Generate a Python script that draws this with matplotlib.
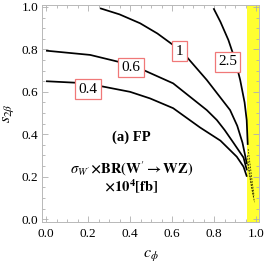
import matplotlib
matplotlib.use("Agg")
import matplotlib.pyplot as plt
from matplotlib.ticker import MultipleLocator

plt.rcParams['mathtext.fontset'] = 'stix'
plt.rcParams['font.family'] = ['Liberation Serif', 'DejaVu Serif']

# contour levels (sigma x BR x 10^4 [fb])
levels = ["0.4", "0.6", "1", "2.5"]
c_04 = [0.0, 0.14, 0.26, 0.40, 0.495, 0.605, 0.733, 0.83, 0.908, 0.94, 0.956]
s_04 = [0.65, 0.643, 0.627, 0.60, 0.569, 0.523, 0.432, 0.37, 0.294, 0.247, 0.20]
c_06 = [0.0, 0.21, 0.343, 0.463, 0.605, 0.765, 0.813, 0.85, 0.892, 0.94, 0.956]
s_06 = [0.794, 0.774, 0.742, 0.703, 0.64, 0.514, 0.467, 0.42, 0.36, 0.29, 0.23]
c_1 = [0.257, 0.35, 0.448, 0.53, 0.606, 0.665, 0.765, 0.876, 0.91, 0.935, 0.956]
s_1 = [0.994, 0.965, 0.923, 0.875, 0.82, 0.77, 0.656, 0.514, 0.44, 0.36, 0.26]
c_25 = [0.797, 0.83, 0.868, 0.90, 0.924, 0.945, 0.955, 0.96]
s_25 = [0.994, 0.93, 0.844, 0.75, 0.656, 0.55, 0.467, 0.35]
curves_c = [c_04, c_06, c_1, c_25]
curves_s = [s_04, s_06, s_1, s_25]

# label positions (c, s)
label_c = [0.20, 0.404, 0.636, 0.864]
label_s = [0.613, 0.715, 0.792, 0.742]

# dashed contour pieces inside the excluded band
band_c = [[0.958, 0.966, 0.975, 0.985, 0.992], [0.960, 0.968, 0.978, 0.988], [0.962, 0.972, 0.982, 0.99]]
band_s = [[0.30, 0.24, 0.18, 0.12, 0.08], [0.26, 0.21, 0.15, 0.10], [0.33, 0.25, 0.17, 0.11]]

# excluded band in c_phi
band_lo, band_hi = 0.958, 1.02

fig = plt.figure(figsize=(2.66, 2.66), dpi=100)
ax = fig.add_axes([0.158, 0.165, 0.816, 0.816])
ax.set_xlim(-0.019, 1.014)
ax.set_ylim(-0.014, 1.009)

ax.axvspan(band_lo, band_hi, color='#ffff30', zorder=1, lw=0)

for cc, ss in zip(curves_c, curves_s):
    ax.plot(cc, ss, color='black', lw=1.25, zorder=2, solid_capstyle='butt')
for cc, ss in zip(band_c, band_s):
    ax.plot(cc, ss, color='#333300', lw=0.6, ls=(0, (2, 1.5)), zorder=2)

for lab, x, y in zip(levels, label_c, label_s):
    ax.text(x, y, lab, ha='center', va='center', fontsize=11, zorder=4,
            bbox=dict(boxstyle='square,pad=0.22', fc='white', ec='#f07878', lw=0.9))

ax.text(0.405, 0.385, '(a) FP', ha='center', va='center', fontsize=10.5, fontweight='bold', zorder=4)
ax.text(0.405, 0.24, r'$\sigma_{W^{\prime}}\mathbf{\times BR(}\mathbf{W}^{\prime}\mathbf{\rightarrow WZ)}$',
        ha='center', va='center', fontsize=10.5, zorder=4)
ax.text(0.405, 0.15, r'$\mathbf{\times 10^{4}[fb]}$', ha='center', va='center', fontsize=10.5, zorder=4)

ax.xaxis.set_minor_locator(MultipleLocator(0.05))
ax.yaxis.set_minor_locator(MultipleLocator(0.05))
ax.set_xticks([0, 0.2, 0.4, 0.6, 0.8, 1.0])
ax.set_xticklabels(['0.0', '0.2', '0.4', '0.6', '0.8', '1.0'])
ax.set_yticks([0, 0.2, 0.4, 0.6, 0.8, 1.0])
ax.set_yticklabels(['0.0', '0.2', '0.4', '0.6', '0.8', '1.0'])
ax.tick_params(which='both', direction='in', top=True, right=True, color='#b0b0b0', width=0.6, labelsize=9.5)
ax.tick_params(which='major', length=4)
ax.tick_params(which='minor', length=2.2)
ax.tick_params(axis='x', pad=4)
ax.tick_params(axis='y', pad=2.5)
for sp in ax.spines.values():
    sp.set_color('#b8b8b8')
    sp.set_linewidth(0.7)

ax.set_xlabel(r'$c_{\phi}$', fontsize=11.5, labelpad=5)
ax.set_ylabel(r'$s_{2\beta}$', fontsize=11.5, labelpad=4)

fig.savefig('out.png', dpi=100)
